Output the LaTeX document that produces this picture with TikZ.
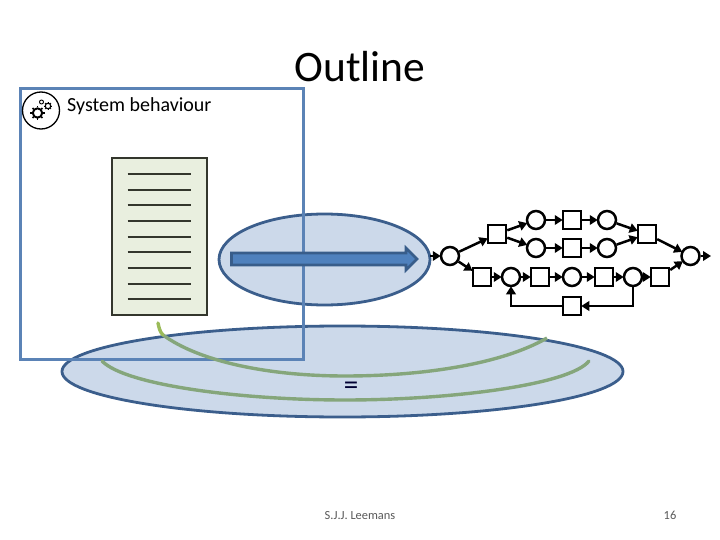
\documentclass[tikz,border=0pt]{standalone}
\usepackage{fontspec}
\setmainfont{Carlito}
\usetikzlibrary{shapes.geometric,arrows.meta,calc}
\definecolor{rectblue}{HTML}{5B83B6}
\definecolor{ellfill}{HTML}{CCD9EA}
\definecolor{elledge}{HTML}{3B5E8C}
\definecolor{arrfill}{HTML}{4F81BD}
\definecolor{arredge}{HTML}{385D8A}
\definecolor{docfill}{HTML}{E9EFDF}
\definecolor{docedge}{HTML}{33362C}
\definecolor{grn}{HTML}{85A67B}
\definecolor{grntip}{HTML}{9BBB59}
\tikzset{
 ell/.style={ellipse,draw=elledge,fill=ellfill,line width=2.8pt,inner sep=0pt},
 pl/.style={circle,draw=black,fill=white,line width=2.5pt,minimum size=18pt,inner sep=0pt},
 tr/.style={rectangle,draw=black,fill=white,line width=2.5pt,minimum size=18pt,inner sep=0pt},
 ed/.style={draw=black,line width=2.5pt,-{Triangle[length=8pt,width=9.5pt]},shorten >=-1pt},
 grnline/.style={line width=3.4pt,grn,line cap=round},
 docline/.style={line width=1.9pt,docedge},
}
\newcommand{\gearicon}[3]{%
 \draw[line width=0.36*#3 pt,draw=black,fill=none] (#1,#2) circle (0.85*#3 pt);
 \foreach \a in {0,45,...,315}{\draw[line width=0.3*#3 pt,black] ($(#1,#2)+(\a:{1.0*#3 pt})$) -- ($(#1,#2)+(\a:{1.28*#3 pt})$);}
}
\begin{document}
\begin{tikzpicture}[x=1pt,y=-1pt]
\useasboundingbox (0,0) rectangle (720,540);
\fill[white] (0,0) rectangle (720,540);
\node[ell,minimum width=211pt,minimum height=91pt] (small) at (324.5,259.5) {};
\node[ell,minimum width=561pt,minimum height=91pt] (big) at (342.5,371.5) {};
\node[draw=rectblue,line width=3pt,minimum width=283pt,minimum height=271pt,inner sep=0pt] (frame) at (161.5,224) {};
% blue arrow
\draw[line width=2.6pt,draw=arredge,fill=arrfill,line join=miter]
 (231.5,253) -- (406,253) -- (406,248) -- (417,259) -- (406,270) -- (406,265) -- (231.5,265) -- cycle;
% green arcs
\draw[grnline,line cap=butt] (163,335) .. controls (200,362) and (270,376) .. (345,376) .. controls (420,376) and (500,365) .. (547,338);
\draw[line width=3.4pt,grntip,line cap=round] (158,323) .. controls (159,328) and (160,332) .. (163,335);
\draw[grnline] (102,361) .. controls (125,385) and (240,400) .. (345,400) .. controls (450,400) and (570,385) .. (589,361);
% document
\node[draw=docedge,fill=docfill,line width=1.7pt,minimum width=94.5pt,minimum height=157pt,inner sep=0pt] (doc) at (159.5,236.5) {};
\foreach \k in {0,...,8}{\draw[docline] (127.5,{174+15.65*\k}) -- (191,{174+15.65*\k});}
% texts
\node[inner sep=0pt,font=\fontsize{43.5}{50}\selectfont] (title) at (360,67) {Outline};
\node[inner sep=0pt,anchor=west,font=\fontsize{20}{24}\selectfont] (sys) at (67,106) {System behaviour};
\node[inner sep=0pt,font=\fontsize{29}{30}\selectfont,text=black!80!blue] (eq) at (351,388) {=};
\node[inner sep=0pt,font=\fontsize{12.4}{14}\selectfont,text=black!65] (author) at (360,515.5) {S.J.J. Leemans};
\node[inner sep=0pt,font=\fontsize{12.4}{14}\selectfont,text=black!65] (page) at (670,515.5) {16};
% gear icon
\node[circle,draw=black,fill=white,line width=1.3pt,minimum size=37pt,inner sep=0pt] (icon) at (41,110.5) {};
\gearicon{37.5}{113}{5.5}
\gearicon{48}{106}{3.3}
\draw[line width=0.9pt] (41.5,102) circle (2pt);
% petri net
\coordinate (in) at (430,256);
\coordinate (out) at (710,256);
\node[pl] (p0) at (450,256) {};
\node[tr] (t1) at (497,234) {};
\node[pl] (p1) at (536,220) {};
\node[tr] (t2) at (572,220) {};
\node[pl] (p2) at (607,220) {};
\node[pl] (p3) at (536,248) {};
\node[tr] (t3) at (572,248) {};
\node[pl] (p4) at (607,248) {};
\node[tr] (t4) at (647,234) {};
\node[pl] (pe) at (690.5,256) {};
\node[tr] (t5) at (482,277) {};
\node[pl] (p5) at (511,277) {};
\node[tr] (t6) at (540,277) {};
\node[pl] (p6) at (572,277) {};
\node[tr] (t7) at (604,277) {};
\node[pl] (p7) at (633,277) {};
\node[tr] (t8) at (660,277) {};
\node[tr] (t9) at (572,306) {};
\foreach \a/\b in {in/p0,p0/t1,t1/p1,t1/p3,p1/t2,t2/p2,p2/t4,p3/t3,t3/p4,p4/t4,t4/pe,pe/out,p0/t5,t5/p5,p5/t6,t6/p6,p6/t7,t7/p7,p7/t8,t8/pe}
 \draw[ed] (\a) -- (\b);
\draw[ed] (p7.south) |- (t9.east);
\draw[ed] (t9.west) -| (p5.south);
\end{tikzpicture}
\end{document}
